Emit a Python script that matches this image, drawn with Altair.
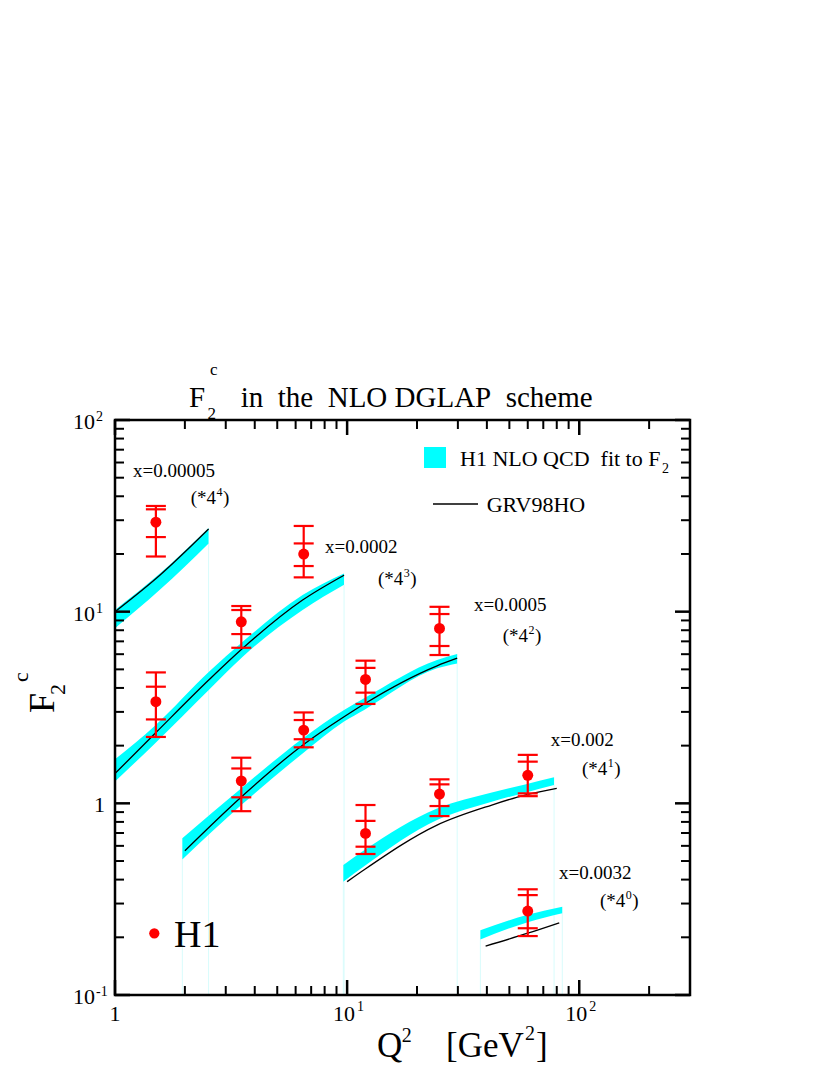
import altair as alt
import pandas as pd

FONT = "Liberation Serif"
W, H = 575, 575
CYAN = "#00ffff"
RED = "#ff0000"

# ---------------- data ----------------
# H1 NLO QCD fit bands (upper / lower edge) and GRV98HO curves, per x bin
band_q2_a = [1.0, 1.56, 2.53]
band_hi_a = [10.2, 15.8, 27.3]
band_lo_a = [8.2, 13.0, 22.7]
line_q2_a = [1.0, 1.56, 2.53]
line_a = [10.0, 15.5, 27.0]

band_q2_b = [1.0, 1.49, 2.56, 3.55, 6.43, 9.7]
band_hi_b = [1.70, 2.55, 4.9, 6.97, 12.2, 15.8]
band_lo_b = [1.30, 2.06, 3.95, 5.82, 10.2, 13.8]
line_q2_b = [1.0, 1.49, 2.56, 3.55, 6.43, 9.7]
line_b = [1.43, 2.32, 4.45, 6.44, 11.5, 15.5]

band_q2_c = [1.95, 3.5, 6.43, 9.7, 11.84, 24.4, 29.8]
band_hi_c = [0.657, 1.20, 2.18, 3.07, 3.53, 5.59, 6.01]
band_lo_c = [0.51, 0.98, 1.82, 2.67, 3.07, 5.06, 5.37]
line_q2_c = [2.0, 3.5, 6.43, 9.7, 11.84, 24.4, 29.8]
line_c = [0.566, 1.08, 2.01, 2.83, 3.30, 5.22, 5.72]

band_q2_d = [9.63, 11.84, 24.4, 42.0, 58.4, 77.9]
band_hi_d = [0.477, 0.569, 0.94, 1.14, 1.255, 1.366]
band_lo_d = [0.39, 0.469, 0.818, 1.02, 1.137, 1.246]
line_q2_d = [10.0, 11.84, 24.4, 42.0, 58.4, 80.0]
line_d = [0.39, 0.45, 0.77, 0.98, 1.105, 1.197]

band_q2_e = [37.5, 60.0, 84.5]
band_hi_e = [0.218, 0.262, 0.289]
band_lo_e = [0.195, 0.240, 0.267]
line_q2_e = [39.5, 60.0, 82.0]
line_e = [0.180, 0.210, 0.238]

# H1 data points: value, inner and outer error-bar caps
pt_q2 = [1.5, 1.5, 3.5, 6.5, 3.5, 6.5, 12, 25, 12, 25, 60, 60]
pt_f2 = [29.3, 3.39, 8.85, 19.98, 1.31, 2.41, 4.43, 8.18, 0.697, 1.118, 1.40, 0.274]
pt_tot_hi = [35.6, 4.82, 10.7, 28.0, 1.73, 2.98, 5.55, 10.6, 0.98, 1.334, 1.79, 0.356]
pt_stat_hi = [34.2, 4.06, 10.2, 22.7, 1.52, 2.72, 5.09, 9.72, 0.81, 1.256, 1.65, 0.332]
pt_stat_lo = [24.5, 2.74, 7.64, 17.3, 1.075, 2.16, 3.78, 6.62, 0.594, 0.968, 1.127, 0.223]
pt_tot_lo = [19.4, 2.22, 6.48, 15.1, 0.91, 1.96, 3.30, 5.94, 0.544, 0.858, 1.09, 0.203]

series_names = ["x=0.00005", "x=0.0002", "x=0.0005", "x=0.002", "x=0.0032"]
series_exps = ["4", "3", "2", "1", "0"]

# axis ticks and labels
x_major = [1, 10, 100]
x_minor = [2, 3, 4, 5, 6, 7, 8, 9, 20, 30, 40, 50, 60, 70, 80, 90, 200]
y_major = [0.1, 1, 10, 100]
y_minor = [0.2, 0.3, 0.4, 0.5, 0.6, 0.7, 0.8, 0.9, 2, 3, 4, 5, 6, 7, 8, 9,
           20, 30, 40, 50, 60, 70, 80, 90]
x_label_vals = [10, 100]
x_label_sup = ["1", "2"]
y_label_vals = [0.1, 10, 100]
y_label_sup = ["-1", "1", "2"]

# ---------------- tables ----------------
bands_src = [
    (series_names[0], band_q2_a, band_hi_a, band_lo_a),
    (series_names[1], band_q2_b, band_hi_b, band_lo_b),
    (series_names[2], band_q2_c, band_hi_c, band_lo_c),
    (series_names[3], band_q2_d, band_hi_d, band_lo_d),
    (series_names[4], band_q2_e, band_hi_e, band_lo_e),
]
lines_src = [
    (series_names[0], line_q2_a, line_a),
    (series_names[1], line_q2_b, line_b),
    (series_names[2], line_q2_c, line_c),
    (series_names[3], line_q2_d, line_d),
    (series_names[4], line_q2_e, line_e),
]
bands = pd.concat([pd.DataFrame({"s": n, "q2": q, "hi": h, "lo": l}) for n, q, h, l in bands_src])
lines = pd.concat([pd.DataFrame({"s": n, "q2": q, "f": f}) for n, q, f in lines_src])
edges = pd.DataFrame(
    [{"q2": q[i], "lo": l[i]} for _, q, _, l in bands_src for i in (0, -1) if q[i] > 1.0]
)
points = pd.DataFrame({"q2": pt_q2, "f": pt_f2, "thi": pt_tot_hi, "tlo": pt_tot_lo})
caps = pd.DataFrame({
    "q2": pt_q2 * 4,
    "v": pt_tot_hi + pt_stat_hi + pt_stat_lo + pt_tot_lo,
})

xscale = alt.Scale(type="log", domain=[1, 300], nice=False)
yscale = alt.Scale(type="log", domain=[0.1, 100], nice=False)


def XQ(f):
    return alt.X(f, type="quantitative", scale=xscale, axis=None)


def YQ(f):
    return alt.Y(f, type="quantitative", scale=yscale, axis=None)


one = pd.DataFrame({"k": [0]})


def txt(s, px, py, size, align="left", angle=0, color="black"):
    return alt.Chart(pd.DataFrame({"s": [s]})).mark_text(
        align=align, baseline="alphabetic", font=FONT, fontSize=size,
        color=color, angle=angle
    ).encode(x=alt.value(px), y=alt.value(py), text="s:N")


layers = []

# faint fill edges down to the axis
layers.append(alt.Chart(edges).mark_rule(color="#d8fcfc", strokeWidth=1).encode(
    x=XQ("q2"), y=YQ("lo"), y2=alt.value(H)))
# bands
layers.append(alt.Chart(bands).mark_area(color=CYAN, opacity=1, interpolate="monotone").encode(
    x=XQ("q2"), y=YQ("hi"), y2="lo:Q", detail="s:N"))
# GRV lines
layers.append(alt.Chart(lines).mark_line(color="black", strokeWidth=1.3, interpolate="monotone").encode(
    x=XQ("q2"), y=YQ("f"), detail="s:N"))
# error bars
layers.append(alt.Chart(points).mark_rule(color=RED, strokeWidth=2.2).encode(
    x=XQ("q2"), y=YQ("tlo"), y2="thi:Q"))
layers.append(alt.Chart(caps).mark_tick(orient="horizontal", color=RED, size=20,
                                        thickness=2.2, opacity=1).encode(
    x=XQ("q2"), y=YQ("v")))
layers.append(alt.Chart(points).mark_circle(color=RED, size=120, opacity=1).encode(
    x=XQ("q2"), y=YQ("f")))

# ticks (inward, all four sides)
for vals, L, sw in [(x_major, 15, 2.5), (x_minor, 9, 2.0)]:
    d = pd.DataFrame({"v": vals})
    layers.append(alt.Chart(d).mark_rule(color="black", strokeWidth=sw).encode(
        x=XQ("v"), y=alt.value(H), y2=alt.value(H - L)))
    layers.append(alt.Chart(d).mark_rule(color="black", strokeWidth=sw).encode(
        x=XQ("v"), y=alt.value(0), y2=alt.value(L)))
for vals, L, sw in [(y_major, 15, 2.5), (y_minor, 9, 2.0)]:
    d = pd.DataFrame({"v": vals})
    layers.append(alt.Chart(d).mark_rule(color="black", strokeWidth=sw).encode(
        y=YQ("v"), x=alt.value(0), x2=alt.value(L)))
    layers.append(alt.Chart(d).mark_rule(color="black", strokeWidth=sw).encode(
        y=YQ("v"), x=alt.value(W), x2=alt.value(W - L)))

# frame
layers.append(alt.Chart(one).mark_rect(filled=False, stroke="black", strokeWidth=2.5).encode(
    x=alt.value(0), x2=alt.value(W), y=alt.value(0), y2=alt.value(H)))

# x axis labels
layers.append(alt.Chart(pd.DataFrame({"v": [1], "t": ["1"]})).mark_text(
    align="center", baseline="alphabetic", font=FONT, fontSize=22, color="black").encode(
    x=XQ("v"), y=alt.value(601), text="t:N"))
xl = pd.DataFrame({"v": x_label_vals, "b": ["10"] * len(x_label_vals), "s": x_label_sup})
layers.append(alt.Chart(xl).mark_text(
    align="right", baseline="alphabetic", font=FONT, fontSize=22, dx=8, color="black").encode(
    x=XQ("v"), y=alt.value(601), text="b:N"))
layers.append(alt.Chart(xl).mark_text(
    align="left", baseline="alphabetic", font=FONT, fontSize=14, dx=10, color="black").encode(
    x=XQ("v"), y=alt.value(591), text="s:N"))

# y axis labels
layers.append(alt.Chart(pd.DataFrame({"v": [1], "t": ["1"]})).mark_text(
    align="right", baseline="alphabetic", font=FONT, fontSize=22, dy=9, color="black").encode(
    y=YQ("v"), x=alt.value(-10), text="t:N"))
yl = pd.DataFrame({"v": y_label_vals, "b": ["10"] * len(y_label_vals), "s": y_label_sup})
layers.append(alt.Chart(yl).mark_text(
    align="right", baseline="alphabetic", font=FONT, fontSize=22, dy=9, color="black").encode(
    y=YQ("v"), x=alt.value(-20), text="b:N"))
layers.append(alt.Chart(yl).mark_text(
    align="left", baseline="alphabetic", font=FONT, fontSize=14, dy=1, color="black").encode(
    y=YQ("v"), x=alt.value(-19), text="s:N"))

# title
layers += [
    txt("F", 74, -13, 29),
    txt("2", 92.5, -1, 17),
    txt("c", 95, -45, 17),
    txt("in\u00a0 the\u00a0 NLO DGLAP\u00a0 scheme", 125.7, -13, 29),
]
# y axis title
layers += [
    txt("F", -61, 293, 36, angle=270),
    txt("2", -50, 275, 22, angle=270),
    txt("c", -87, 262, 22, angle=270),
]
# x axis title
layers += [
    txt("Q", 262, 637, 35),
    txt("2", 286.7, 622, 20),
    txt("[GeV", 331, 637, 35),
    txt("2", 410, 620, 20),
    txt("]", 421, 637, 35),
]
# legend
layers.append(alt.Chart(one).mark_rect(color=CYAN).encode(
    x=alt.value(309), x2=alt.value(331), y=alt.value(27), y2=alt.value(48)))
layers.append(txt("H1 NLO QCD\u00a0 fit to F", 345, 46, 22))
layers.append(txt("2", 547, 53, 14))
layers.append(alt.Chart(one).mark_rule(color="black", strokeWidth=1.3).encode(
    x=alt.value(318), x2=alt.value(363), y=alt.value(84)))
layers.append(txt("GRV98HO", 371.7, 91.7, 22))
layers.append(alt.Chart(one).mark_circle(color=RED, size=105, opacity=1).encode(
    x=alt.value(39.3), y=alt.value(513.3)))
layers.append(txt("H1", 59, 526.7, 38))

# x-bin annotations
ann_pos = [((18, 57), (75.7, 84)),
           ((210, 133.3), (263, 165)),
           ((359, 191), (387.7, 221.7)),
           ((435.7, 326), (467, 355)),
           ((444, 459.3), (485, 486.7))]
for name, ex, ((lx, ly), (fx, fy)) in zip(series_names, series_exps, ann_pos):
    layers += [
        txt(name, lx, ly, 19),
        txt("(*4", fx, fy, 19),
        txt(ex, fx + 25.8, fy - 8, 12),
        txt(")", fx + 32.3, fy, 19),
    ]

chart = alt.layer(*layers).properties(
    width=W, height=H,
    autosize=alt.AutoSizeParams(type="none"),
    padding={"left": 107, "top": 412, "right": 130, "bottom": 69},
).configure_view(strokeWidth=0)

chart.save("out.html", embed_options={"renderer": "svg", "actions": False})
